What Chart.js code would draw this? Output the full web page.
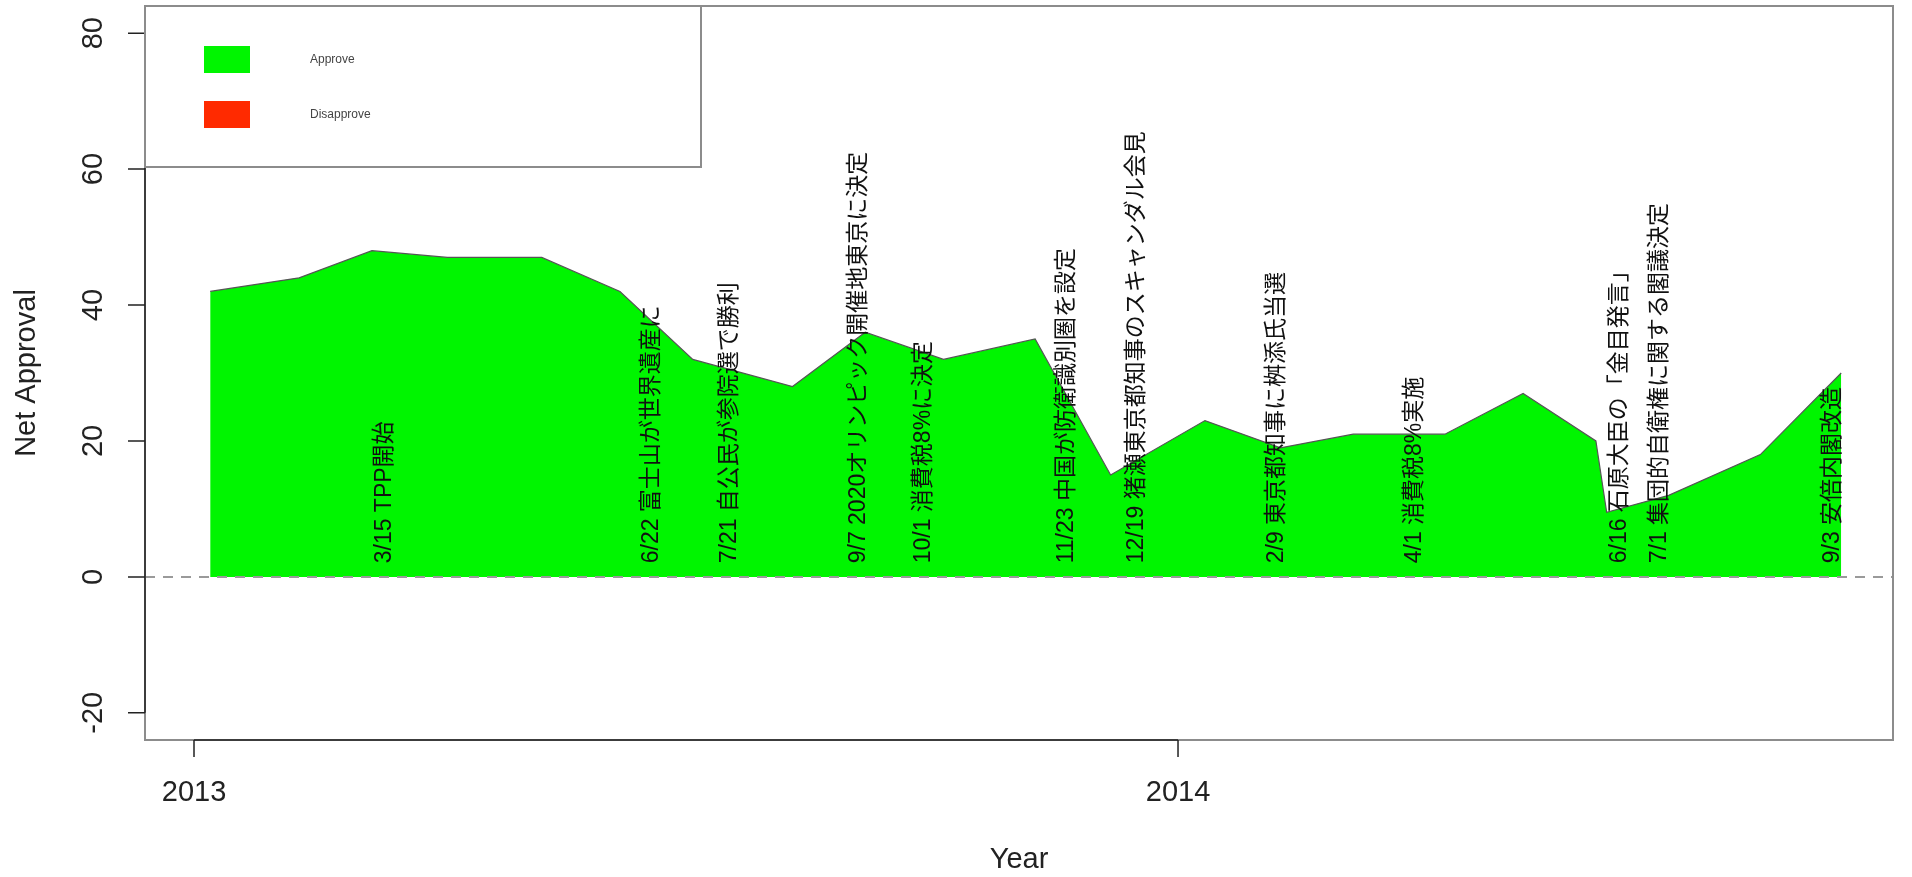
<!DOCTYPE html>
<html>
<head>
<meta charset="utf-8">
<script src="https://cdn.jsdelivr.net/npm/chart.js@4/dist/chart.umd.min.js"></script>
<style>
  body { margin: 0; background: #fff; }
  #wrap { width: 1912px; height: 877px; }
</style>
</head>
<body>
<div id="wrap"><canvas id="approvalChart" width="1912" height="877"></canvas></div>
<script>
// poll dates and net approval (approve - disapprove)
const pollDates = [
  "2013-01-07", "2013-02-09", "2013-03-08", "2013-04-05", "2013-05-10", "2013-06-08",
  "2013-07-05", "2013-08-11", "2013-09-07", "2013-10-06", "2013-11-09", "2013-12-07",
  "2014-01-11", "2014-02-08", "2014-03-07", "2014-04-10", "2014-05-09", "2014-06-05",
  "2014-06-09", "2014-07-02", "2014-08-05", "2014-09-04",
];
const netApproval = [42, 44, 48, 47, 47, 42, 32, 28, 36, 32, 35, 15, 23, 19, 21, 21, 27, 20, 9.5, 12, 18, 30];

// events written up the chart
const eventDates = [
  "2013-03-15", "2013-06-22", "2013-07-21", "2013-09-07", "2013-10-01", "2013-11-23",
  "2013-12-19", "2014-02-09", "2014-04-01", "2014-06-16", "2014-07-01", "2014-09-03",
];
const eventLabels = [
  "3/15 TPP開始",
  "6/22 富士山が世界遺産に",
  "7/21 自公民が参院選で勝利",
  "9/7 2020オリンピック開催地東京に決定",
  "10/1 消費税8%に決定",
  "11/23 中国が防衛識別圏を設定",
  "12/19 猪瀬東京都知事のスキャンダル会見",
  "2/9 東京都知事に桝添氏当選",
  "4/1 消費税8%実施",
  "6/16 石原大臣の「金目発言」",
  "7/1 集団的自衛権に関する閣議決定",
  "9/3 安倍内閣改造",
];
const eventY = 2;

const yTicks = [-20, 0, 20, 40, 60, 80];
const xTicks = [2013, 2014];
const xTickLabels = ["2013", "2014"];
const seriesNames = ["Approve", "Disapprove"];

const FONT = "'Liberation Sans', Arial, 'Noto Sans CJK JP', sans-serif";

// date string -> decimal year
function toYear(s) {
  const [y, m, d] = s.split("-").map(Number);
  const start = Date.UTC(y, 0, 1);
  const end = Date.UTC(y + 1, 0, 1);
  return y + (Date.UTC(y, m - 1, d) - start) / (end - start);
}

// R style box, axes, zero line and event notes
const rAxes = {
  id: "rAxes",
  afterDatasetsDraw(chart) {
    const { ctx, chartArea: a, scales } = chart;
    const xs = scales.x, ys = scales.y;
    ctx.save();

    // dashed zero line
    const y0 = ys.getPixelForValue(0);
    ctx.strokeStyle = "#9a9a9a";
    ctx.lineWidth = 2;
    ctx.setLineDash([10, 8]);
    ctx.beginPath();
    ctx.moveTo(a.left, y0);
    ctx.lineTo(a.right, y0);
    ctx.stroke();
    ctx.setLineDash([]);

    // event texts, rotated
    ctx.fillStyle = "#111";
    ctx.font = "23px " + FONT;
    ctx.textAlign = "left";
    ctx.textBaseline = "alphabetic";
    eventDates.forEach((d, i) => {
      const px = xs.getPixelForValue(toYear(d));
      const py = ys.getPixelForValue(eventY);
      ctx.save();
      ctx.translate(px, py);
      ctx.rotate(-Math.PI / 2);
      ctx.fillText(eventLabels[i], 0, 0);
      ctx.restore();
    });

    // plot box
    ctx.strokeStyle = "#8c8c8c";
    ctx.lineWidth = 2;
    ctx.strokeRect(a.left, a.top, a.right - a.left, a.bottom - a.top);

    // y axis
    ctx.strokeStyle = "#222";
    ctx.lineWidth = 1.5;
    ctx.beginPath();
    ctx.moveTo(a.left, ys.getPixelForValue(yTicks[0]));
    ctx.lineTo(a.left, ys.getPixelForValue(yTicks[yTicks.length - 1]));
    yTicks.forEach((v) => {
      const p = ys.getPixelForValue(v);
      ctx.moveTo(a.left, p);
      ctx.lineTo(a.left - 17, p);
    });
    ctx.stroke();

    // x axis
    ctx.beginPath();
    ctx.moveTo(xs.getPixelForValue(xTicks[0]), a.bottom);
    ctx.lineTo(xs.getPixelForValue(xTicks[xTicks.length - 1]), a.bottom);
    xTicks.forEach((v) => {
      const p = xs.getPixelForValue(v);
      ctx.moveTo(p, a.bottom);
      ctx.lineTo(p, a.bottom + 17);
    });
    ctx.stroke();

    // tick labels
    ctx.fillStyle = "#222";
    ctx.font = "29px " + FONT;
    ctx.textAlign = "center";
    ctx.textBaseline = "middle";
    xTicks.forEach((v, i) => {
      ctx.fillText(xTickLabels[i], xs.getPixelForValue(v), a.bottom + 53);
    });
    yTicks.forEach((v) => {
      ctx.save();
      ctx.translate(a.left - 51, ys.getPixelForValue(v));
      ctx.rotate(-Math.PI / 2);
      ctx.fillText(String(v), 0, 0);
      ctx.restore();
    });

    // axis titles
    ctx.fillText("Year", (a.left + a.right) / 2, a.bottom + 120);
    ctx.save();
    ctx.translate(a.left - 118, (a.top + a.bottom) / 2);
    ctx.rotate(-Math.PI / 2);
    ctx.fillText("Net Approval", 0, 0);
    ctx.restore();

    ctx.restore();
  },
};

// boxed legend in the top left corner
const rLegend = {
  id: "rLegend",
  afterDraw(chart) {
    const { ctx, chartArea: a } = chart;
    ctx.save();
    ctx.fillStyle = "#fff";
    ctx.fillRect(a.left, a.top, 556, 161);
    ctx.strokeStyle = "#8c8c8c";
    ctx.lineWidth = 2;
    ctx.strokeRect(a.left, a.top, 556, 161);
    ctx.font = "12px " + FONT;
    ctx.textAlign = "left";
    ctx.textBaseline = "middle";
    chart.data.datasets.forEach((ds, i) => {
      const top = a.top + 40 + i * 55;
      ctx.fillStyle = ds.backgroundColor;
      ctx.fillRect(a.left + 59, top, 46, 27);
      ctx.fillStyle = "#444";
      ctx.fillText(ds.label, a.left + 165, top + 14);
    });
    ctx.restore();
  },
};

const ctx = document.getElementById("approvalChart").getContext("2d");
new Chart(ctx, {
  type: "line",
  data: {
    datasets: [
      {
        label: seriesNames[0],
        data: pollDates.map((d, i) => ({ x: toYear(d), y: netApproval[i] })),
        fill: { value: 0 },
        backgroundColor: "#00F500",
        borderColor: "#555",
        borderWidth: 1.2,
        pointRadius: 0,
        tension: 0,
      },
      {
        label: seriesNames[1],
        data: [],
        fill: { value: 0 },
        backgroundColor: "#FF2A00",
        borderColor: "#555",
        borderWidth: 1.2,
        pointRadius: 0,
      },
    ],
  },
  options: {
    responsive: false,
    animation: false,
    layout: { padding: { left: 145, right: 19, top: 6, bottom: 137 } },
    plugins: {
      legend: { display: false },
      tooltip: { enabled: false },
    },
    scales: {
      x: { type: "linear", display: false, min: 2012.9502, max: 2014.7266 },
      y: { type: "linear", display: false, min: -24, max: 84 },
    },
  },
  plugins: [rAxes, rLegend],
});
</script>
</body>
</html>
